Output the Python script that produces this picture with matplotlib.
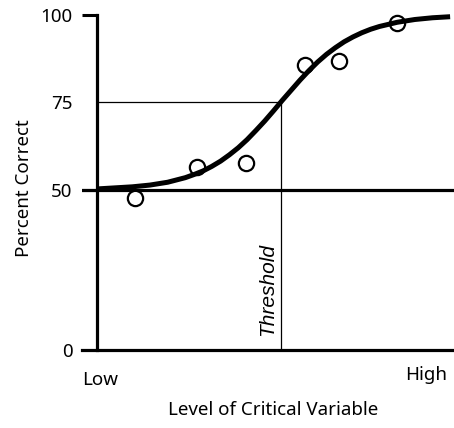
import numpy as np
import matplotlib
matplotlib.use('Agg')
import matplotlib.pyplot as plt
from matplotlib.ticker import NullLocator

# ---- data ----
level_pts = [1.08, 2.83, 4.22, 5.89, 6.86, 8.50]
pct_pts = [47.5, 56.5, 57.7, 85.6, 86.8, 97.7]

curve_x = [0.0, 0.5, 1.0, 1.5, 2.0, 2.5, 2.75, 3.0, 3.25, 3.5, 3.75, 4.0, 4.25,
           4.5, 4.75, 5.0, 5.25, 5.5, 5.75, 6.0, 6.25, 6.5, 6.75, 7.0, 7.25,
           7.5, 7.75, 8.0, 8.5, 9.0, 9.5, 10.0]
curve_y = [50.3, 50.6, 50.9, 51.4, 52.2, 53.5, 54.4, 55.4, 56.7, 58.2, 60.0, 62.0, 64.3,
           66.9, 69.6, 72.5, 75.5, 78.4, 81.3, 84.0, 86.5, 88.7, 90.6, 92.3, 93.7,
           94.9, 95.9, 96.7, 97.9, 98.7, 99.2, 99.5]

threshold_level = 5.21
threshold_pct = 75
chance_pct = 50

ytick_vals = [0, 50, 75, 100]
ytick_labels = ['0', '50', '75', '100']

FONT = 'Noto Sans'
FS = 13.5

# hand-drawn (slightly non-linear) vertical scale of the original
Yk = np.array([0., 50., 75., 100.])
Pk = np.array([0., 160., 248., 335.])

def fwd(v):
    v = np.asarray(v, float)
    out = np.interp(v, Yk, Pk)
    out = np.where(v > 100, 335 + (v - 100) * 3.48, out)
    out = np.where(v < 0, v * 3.2, out)
    return out

def inv(p):
    p = np.asarray(p, float)
    out = np.interp(p, Pk, Yk)
    out = np.where(p > 335, 100 + (p - 335) / 3.48, out)
    out = np.where(p < 0, p / 3.2, out)
    return out

W, H = 454, 428
fig = plt.figure(figsize=(W / 100, H / 100), dpi=100)
ax = fig.add_axes([82 / W, 78 / H, 372 / W, 338.5 / H])
ax.set_yscale('function', functions=(fwd, inv))
ax.set_xlim(-0.425, 10.11)
ax.set_ylim(0, 101)

for s in ['top', 'right']:
    ax.spines[s].set_visible(False)
ax.spines['left'].set_position(('data', 0))
ax.spines['left'].set_bounds(0, 100)
ax.spines['left'].set_linewidth(2.3)
ax.spines['bottom'].set_linewidth(2.3)

ax.set_xticks([])
ax.set_yticks(ytick_vals, ytick_labels)
ax.yaxis.set_minor_locator(NullLocator())
ax.tick_params(axis='y', direction='out', length=10.8, width=2.2, pad=7,
               labelsize=FS)
for lab in ax.get_yticklabels():
    lab.set_fontfamily(FONT)
ticks = ax.yaxis.get_major_ticks()
for i, v in enumerate(ytick_vals):
    if v in (0, 75):
        ticks[i].tick1line.set_visible(False)

ax.axhline(chance_pct, color='black', lw=2.3, zorder=2)
ax.plot([0, threshold_level], [threshold_pct, threshold_pct], color='black', lw=0.9, zorder=2)
ax.plot([threshold_level, threshold_level], [0, threshold_pct], color='black', lw=0.9, zorder=2)

ax.plot(level_pts, pct_pts, 'o', ms=11, mfc='white', mec='black', mew=1.6,
        zorder=3, clip_on=False)
ax.plot(curve_x, curve_y, color='black', lw=3.6, solid_capstyle='butt',
        solid_joinstyle='round', zorder=4, clip_on=False)

ax.text(4.84, 19, 'Threshold', rotation=90, ha='center', va='center',
        fontsize=15, style='italic', family='Liberation Sans')

def px(x, y):
    return x / W, 1 - y / H

fig.text(*px(82, 385), 'Low', ha='left', va='baseline', fontsize=FS, family=FONT)
fig.text(*px(447, 380), 'High', ha='right', va='baseline', fontsize=FS, family=FONT)
fig.text(*px(273, 415), 'Level of Critical Variable', ha='center', va='baseline',
         fontsize=FS, family=FONT)
fig.text(*px(24, 188), 'Percent Correct', rotation=90, ha='center', va='center',
         fontsize=FS, family=FONT)

fig.savefig('out.png', dpi=100)
